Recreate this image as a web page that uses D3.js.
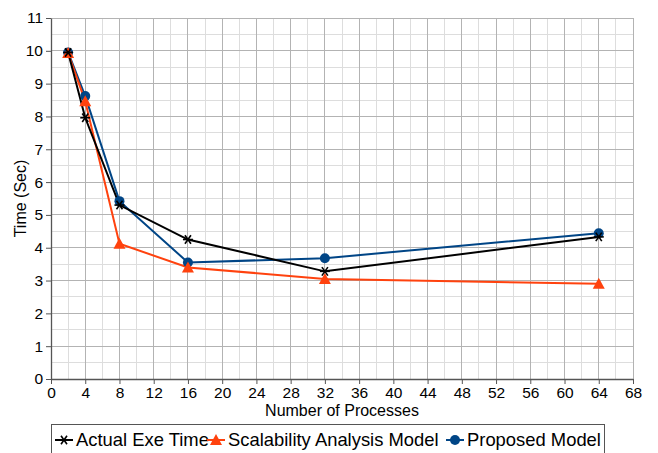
<!DOCTYPE html>
<html><head><meta charset="utf-8">
<script src="https://cdn.jsdelivr.net/npm/d3@7"></script>
<style>body{margin:0;background:#fff}svg{display:block;font-family:"Liberation Sans",Arial,sans-serif}</style>
</head><body><svg id="c" width="658" height="453"></svg>
<script>
const processes = [2, 4, 8, 16, 32, 64];
const actualExeTime = [9.95, 7.96, 5.30, 4.25, 3.28, 4.33];
const scalabilityModel = [9.93, 8.46, 4.12, 3.40, 3.05, 2.90];
const proposedModel = [9.95, 8.62, 5.42, 3.55, 3.68, 4.44];
const xTicks = d3.range(0, 69, 4);
const yTicks = d3.range(0, 12, 1);
const seriesNames = ["Actual Exe Time", "Scalability Analysis Model", "Proposed Model"];

const svg = d3.select("#c");
const L = 51, R = 633, T = 18, B = 379;
const x = d3.scaleLinear().domain([0, 68]).range([L, R]);
const y = d3.scaleLinear().domain([0, 11]).range([B, T]);

// minor grid
const g = svg.append("g");
g.selectAll(".vx").data(d3.range(2, 68, 4)).join("line")
  .attr("x1", d => x(d)).attr("x2", d => x(d)).attr("y1", T).attr("y2", B)
  .attr("stroke", "#dddddd").attr("stroke-width", 1).attr("shape-rendering", "crispEdges");
g.selectAll(".hy").data(d3.range(0.5, 11, 1)).join("line")
  .attr("y1", d => y(d)).attr("y2", d => y(d)).attr("x1", L).attr("x2", R)
  .attr("stroke", "#dddddd").attr("stroke-width", 1).attr("shape-rendering", "crispEdges");
// major grid
g.selectAll(".mx").data(xTicks.slice(1)).join("line")
  .attr("x1", d => x(d)).attr("x2", d => x(d)).attr("y1", T).attr("y2", B)
  .attr("stroke", "#b3b3b3").attr("stroke-width", 1).attr("shape-rendering", "crispEdges");
g.selectAll(".my").data(yTicks.slice(1)).join("line")
  .attr("y1", d => y(d)).attr("y2", d => y(d)).attr("x1", L).attr("x2", R)
  .attr("stroke", "#b3b3b3").attr("stroke-width", 1).attr("shape-rendering", "crispEdges");

// axes
const xa = svg.append("g").attr("transform", `translate(0,${B})`)
  .call(d3.axisBottom(x).tickValues(xTicks).tickSize(5).tickSizeOuter(0).tickPadding(3));
const ya = svg.append("g").attr("transform", `translate(${L},0)`)
  .call(d3.axisLeft(y).tickValues(yTicks).tickSize(5).tickSizeOuter(0).tickPadding(3));
[xa, ya].forEach(a => {
  a.select(".domain").attr("stroke", "#555").attr("stroke-width", 1.3);
  a.selectAll(".tick line").attr("stroke", "#555");
  a.selectAll("text").attr("font-size", 15.5).attr("fill", "#000").attr("font-family", "Liberation Sans, Arial, sans-serif");
});

svg.append("text").attr("x", (L + R) / 2).attr("y", 416).attr("text-anchor", "middle")
  .attr("font-size", 16).text("Number of Processes");
svg.append("text").attr("transform", `translate(26,${(T + B) / 2}) rotate(-90)`)
  .attr("text-anchor", "middle").attr("font-size", 16).text("Time (Sec)");

const colors = ["#000000", "#ff420e", "#004586"];
const data = [actualExeTime, scalabilityModel, proposedModel];
const line = d3.line().x((d, i) => x(processes[i])).y(d => y(d));

function marker(sel, k, cx, cy) {
  if (k === 0) {
    const s = 5;
    const p = sel.append("g").attr("transform", `translate(${cx},${cy})`).attr("stroke", "#000").attr("stroke-width", 1.6);
    p.append("line").attr("x1", -s).attr("x2", s).attr("y1", 0).attr("y2", 0);
    p.append("line").attr("x1", -s * 0.6).attr("x2", s * 0.6).attr("y1", -s * 0.85).attr("y2", s * 0.85);
    p.append("line").attr("x1", s * 0.6).attr("x2", -s * 0.6).attr("y1", -s * 0.85).attr("y2", s * 0.85);
  } else if (k === 1) {
    sel.append("path").attr("d", `M${cx},${cy - 6}L${cx + 6},${cy + 5}L${cx - 6},${cy + 5}Z`).attr("fill", colors[1]);
  } else {
    sel.append("circle").attr("cx", cx).attr("cy", cy).attr("r", 5).attr("fill", colors[2]);
  }
}

const drawOrder = [2, 1, 0];
drawOrder.forEach(k => {
  svg.append("path").datum(data[k]).attr("d", line).attr("fill", "none")
    .attr("stroke", colors[k]).attr("stroke-width", 2);
});
drawOrder.forEach(k => {
  const mg = svg.append("g");
  data[k].forEach((v, i) => marker(mg, k, x(processes[i]), y(v)));
});

// legend
const lg = svg.append("g");
lg.append("rect").attr("x", 51.5).attr("y", 424.5).attr("width", 553).attr("height", 40)
  .attr("fill", "#fff").attr("stroke", "#555").attr("stroke-width", 1);
const lx = [55, 207, 446];
seriesNames.forEach((n, k) => {
  const cx = lx[k] + 9, cy = 440;
  lg.append("line").attr("x1", lx[k]).attr("x2", lx[k] + 18).attr("y1", cy).attr("y2", cy)
    .attr("stroke", colors[k]).attr("stroke-width", 2);
  marker(lg, k, cx, cy);
  lg.append("text").attr("x", lx[k] + 21).attr("y", cy + 6).attr("font-size", 18.4).text(n);
});
</script></body></html>
